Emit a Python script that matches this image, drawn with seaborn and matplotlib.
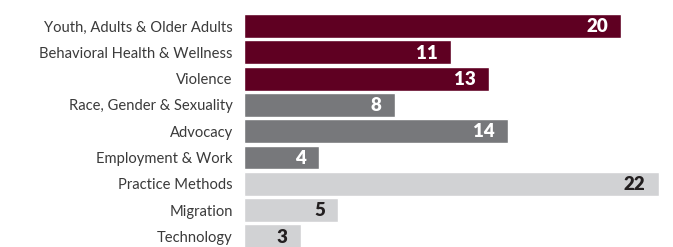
import matplotlib.pyplot as plt
import seaborn as sns
import pandas as pd

# Data
topics = ['Youth, Adults & Older Adults', 'Behavioral Health & Wellness', 'Violence',
          'Race, Gender & Sexuality', 'Advocacy', 'Employment & Work',
          'Practice Methods', 'Migration', 'Technology']
counts = [20, 11, 13, 8, 14, 4, 22, 5, 3]
groups = ['a', 'a', 'a', 'b', 'b', 'b', 'c', 'c', 'c']

group_colors = {'a': '#5f0022', 'b': '#77787b', 'c': '#d1d2d4'}
value_colors = {'a': 'white', 'b': 'white', 'c': '#231f20'}

df = pd.DataFrame({'topic': topics, 'count': counts, 'group': groups})

sns.set_style('white')
plt.rcParams['font.family'] = ['Lato', 'DejaVu Sans']

fig = plt.figure(figsize=(6.73, 2.47), dpi=100)
ax = fig.add_axes([244 / 673, -0.0101, 1 - 244 / 673, 0.958])

sns.barplot(data=df, x='count', y='topic', hue='topic',
            palette=[group_colors[g] for g in groups],
            width=0.91, legend=False, ax=ax, saturation=1)

ax.set_xlim(0, 22.76)
ax.set_ylim(8.5, -0.5)
ax.set_xlabel('')
ax.set_ylabel('')
ax.set_xticks([])
sns.despine(ax=ax, left=True, bottom=True)
ax.tick_params(axis='y', length=0, pad=8, labelsize=10.6, labelcolor='#3a3a3a')

# Value labels inside the bar ends
for i, (v, g) in enumerate(zip(counts, groups)):
    ax.annotate(str(v), (v, i), xytext=(-9.5, -0.5), textcoords='offset points',
                ha='right', va='center', fontsize=13.5, fontweight='heavy',
                color=value_colors[g])

fig.savefig('out.png', dpi=100)
